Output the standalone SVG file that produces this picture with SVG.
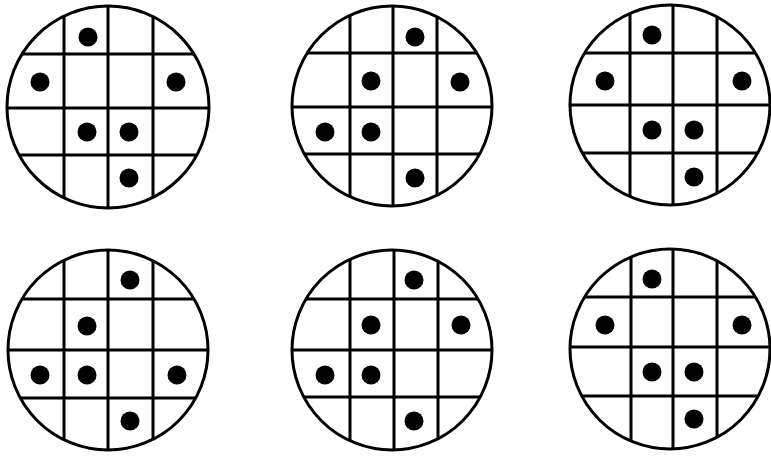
<svg xmlns="http://www.w3.org/2000/svg" width="771" height="457" viewBox="0 0 771 457">
<style>
.ring{fill:none;stroke:#000;stroke-width:3}
.grid line{stroke:#000;stroke-width:3}
.dot{fill:#000}
</style>
<defs>
<clipPath id="c1"><circle cx="108" cy="107" r="101"/></clipPath>
<clipPath id="c2"><circle cx="392" cy="106" r="100"/></clipPath>
<clipPath id="c3"><circle cx="670" cy="105" r="100"/></clipPath>
<clipPath id="c4"><circle cx="108" cy="350" r="100"/></clipPath>
<clipPath id="c5"><circle cx="392" cy="350" r="100"/></clipPath>
<clipPath id="c6"><circle cx="670" cy="349" r="100"/></clipPath>
</defs>
<rect width="771" height="457" fill="#fff"/>

<g id="panel1">
<g class="grid" clip-path="url(#c1)">
<line x1="64" y1="0" x2="64" y2="220"/><line x1="108" y1="0" x2="108" y2="220"/><line x1="153" y1="0" x2="153" y2="220"/>
<line x1="0" y1="54" x2="220" y2="54"/><line x1="0" y1="108" x2="220" y2="108"/><line x1="0" y1="155" x2="220" y2="155"/>
</g>
<circle class="ring" cx="108" cy="107" r="101"/>
<circle class="dot" cx="88" cy="37" r="9.5"/><circle class="dot" cx="40" cy="82" r="9.5"/><circle class="dot" cx="176" cy="82" r="9.5"/>
<circle class="dot" cx="87" cy="132" r="9.5"/><circle class="dot" cx="129" cy="132" r="9.5"/><circle class="dot" cx="129" cy="178" r="9.5"/>
</g>

<g id="panel2">
<g class="grid" clip-path="url(#c2)">
<line x1="350" y1="0" x2="350" y2="220"/><line x1="393" y1="0" x2="393" y2="220"/><line x1="437" y1="0" x2="437" y2="220"/>
<line x1="280" y1="53" x2="500" y2="53"/><line x1="280" y1="107" x2="500" y2="107"/><line x1="280" y1="154" x2="500" y2="154"/>
</g>
<circle class="ring" cx="392" cy="106" r="100"/>
<circle class="dot" cx="415" cy="37" r="9.5"/><circle class="dot" cx="371" cy="81" r="9.5"/><circle class="dot" cx="460" cy="82" r="9.5"/>
<circle class="dot" cx="325" cy="132" r="9.5"/><circle class="dot" cx="371" cy="132" r="9.5"/><circle class="dot" cx="415" cy="178" r="9.5"/>
</g>

<g id="panel3">
<g class="grid" clip-path="url(#c3)">
<line x1="630" y1="0" x2="630" y2="220"/><line x1="673" y1="0" x2="673" y2="220"/><line x1="717" y1="0" x2="717" y2="220"/>
<line x1="560" y1="53" x2="771" y2="53"/><line x1="560" y1="105" x2="771" y2="105"/><line x1="560" y1="153" x2="771" y2="153"/>
</g>
<circle class="ring" cx="670" cy="105" r="100"/>
<circle class="dot" cx="652" cy="35" r="9.5"/><circle class="dot" cx="605" cy="81" r="9.5"/><circle class="dot" cx="742" cy="81" r="9.5"/>
<circle class="dot" cx="652" cy="130" r="9.5"/><circle class="dot" cx="694" cy="130" r="9.5"/><circle class="dot" cx="694" cy="177" r="9.5"/>
</g>

<g id="panel4">
<g class="grid" clip-path="url(#c4)">
<line x1="64" y1="240" x2="64" y2="457"/><line x1="108" y1="240" x2="108" y2="457"/><line x1="153" y1="240" x2="153" y2="457"/>
<line x1="0" y1="299" x2="220" y2="299"/><line x1="0" y1="350" x2="220" y2="350"/><line x1="0" y1="398" x2="220" y2="398"/>
</g>
<circle class="ring" cx="108" cy="350" r="100"/>
<circle class="dot" cx="130" cy="280" r="9.5"/><circle class="dot" cx="87" cy="326" r="9.5"/><circle class="dot" cx="40" cy="375" r="9.5"/>
<circle class="dot" cx="87" cy="375" r="9.5"/><circle class="dot" cx="177" cy="375" r="9.5"/><circle class="dot" cx="130" cy="421" r="9.5"/>
</g>

<g id="panel5">
<g class="grid" clip-path="url(#c5)">
<line x1="350" y1="240" x2="350" y2="457"/><line x1="394" y1="240" x2="394" y2="457"/><line x1="438" y1="240" x2="438" y2="457"/>
<line x1="280" y1="299" x2="500" y2="299"/><line x1="280" y1="350" x2="500" y2="350"/><line x1="280" y1="397" x2="500" y2="397"/>
</g>
<circle class="ring" cx="392" cy="350" r="100"/>
<circle class="dot" cx="414" cy="280" r="9.5"/><circle class="dot" cx="371" cy="325" r="9.5"/><circle class="dot" cx="461" cy="325" r="9.5"/>
<circle class="dot" cx="325" cy="375" r="9.5"/><circle class="dot" cx="371" cy="375" r="9.5"/><circle class="dot" cx="414" cy="421" r="9.5"/>
</g>

<g id="panel6">
<g class="grid" clip-path="url(#c6)">
<line x1="631" y1="240" x2="631" y2="457"/><line x1="673" y1="240" x2="673" y2="457"/><line x1="717" y1="240" x2="717" y2="457"/>
<line x1="560" y1="297" x2="771" y2="297"/><line x1="560" y1="347" x2="771" y2="347"/><line x1="560" y1="396" x2="771" y2="396"/>
</g>
<circle class="ring" cx="670" cy="349" r="100"/>
<circle class="dot" cx="652" cy="279" r="9.5"/><circle class="dot" cx="605" cy="325" r="9.5"/><circle class="dot" cx="742" cy="325" r="9.5"/>
<circle class="dot" cx="652" cy="372" r="9.5"/><circle class="dot" cx="694" cy="372" r="9.5"/><circle class="dot" cx="694" cy="419" r="9.5"/>
</g>
</svg>
